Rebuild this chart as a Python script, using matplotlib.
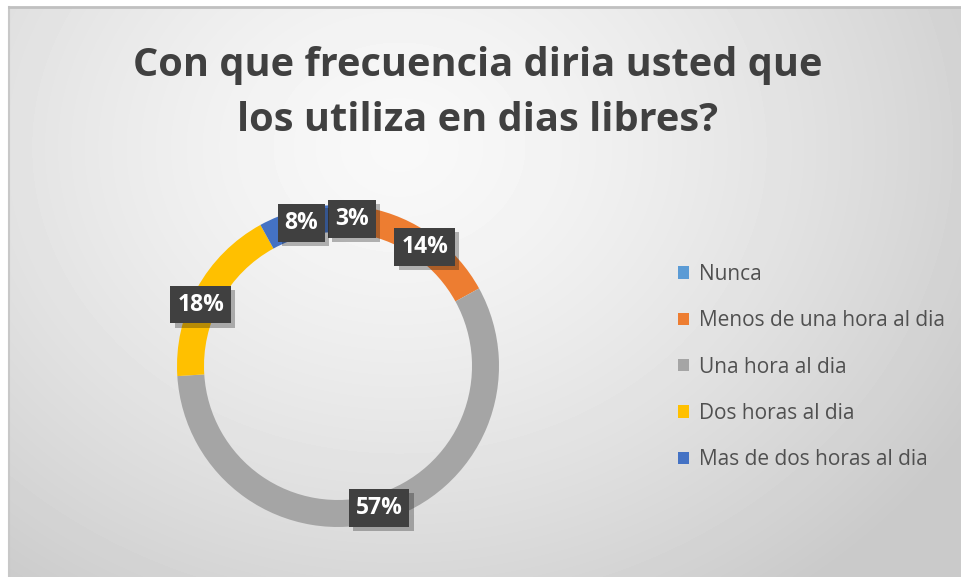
import numpy as np
import matplotlib
matplotlib.use('Agg')
import matplotlib.pyplot as plt
import matplotlib.patheffects as pe

# data
categories = ['Nunca', 'Menos de una hora al dia', 'Una hora al dia',
              'Dos horas al dia', 'Mas de dos horas al dia']
values = [3, 14, 57, 18, 8]
colors = ['#5B9BD5', '#ED7D31', '#A5A5A5', '#FFC000', '#4472C4']
title = 'Con que frecuencia diria usted que\nlos utiliza en dias libres?'

W, H = 962, 577
fig = plt.figure(figsize=(W / 100, H / 100), dpi=100)
fig.patch.set_facecolor('white')

# background panel with radial gradient
bg = fig.add_axes([9 / W, 0, (W - 9) / W, (H - 7) / H])
yy, xx = np.mgrid[0:570, 0:953]
d = np.sqrt(((xx - 390) / 600) ** 2 + ((yy - 140) / 500) ** 2)
shade = np.clip(0.975 - 0.16 * d ** 1.4, 0.79, 1)
bg.imshow(shade, cmap='gray', vmin=0, vmax=1, aspect='auto', interpolation='bilinear')
bg.set_xticks([])
bg.set_yticks([])
for s in bg.spines.values():
    s.set_visible(False)
bg.spines['top'].set_visible(True)
bg.spines['top'].set_color('#c0c0c0')
bg.spines['top'].set_linewidth(2)
bg.spines['left'].set_visible(True)
bg.spines['left'].set_color('#c8c8c8')
bg.spines['left'].set_linewidth(1.5)

fig.text(478 / W, 1 - 93 / H, title, ha='center', va='center', fontsize=28.6,
         fontweight='bold', family='Open Sans', color='#404040', linespacing=1.55)

# doughnut
cx, cy, r = 338, 366, 161
ax = fig.add_axes([(cx - r) / W, (H - cy - r) / H, 2 * r / W, 2 * r / H])
wedges, texts, autotexts = ax.pie(values, colors=colors, startangle=90, counterclock=False,
                                  radius=1, wedgeprops=dict(width=27 / r, linewidth=0),
                                  autopct='%1.0f%%', pctdistance=1 - 13.5 / r,
                                  textprops=dict(color='white', fontsize=16.5, fontweight='bold',
                                                 family='Open Sans'))
ax.set_xlim(-1, 1)
ax.set_ylim(-1, 1)
ax.set_aspect('auto')
ax.axis('off')
for t in autotexts:
    t.set_bbox(dict(boxstyle='square,pad=0.3', fc='#404040', ec='none'))
    t.get_bbox_patch().set_path_effects([pe.SimplePatchShadow(offset=(3, -3), alpha=0.3),
                                         pe.Normal()])
# 18% label sits a bit lower-left in the original
autotexts[3].set_position((autotexts[3].get_position()[0] - 0.05,
                           autotexts[3].get_position()[1] - 0.06))

leg = fig.legend(wedges, categories, loc='upper left', bbox_to_anchor=(659 / W, 1 - 245 / H),
                 frameon=False, prop=dict(family='Open Sans', size=15),
                 labelcolor='#505050', handlelength=0.55, handleheight=0.55,
                 handletextpad=0.45, labelspacing=1.22)

fig.savefig('out.png', dpi=100)
